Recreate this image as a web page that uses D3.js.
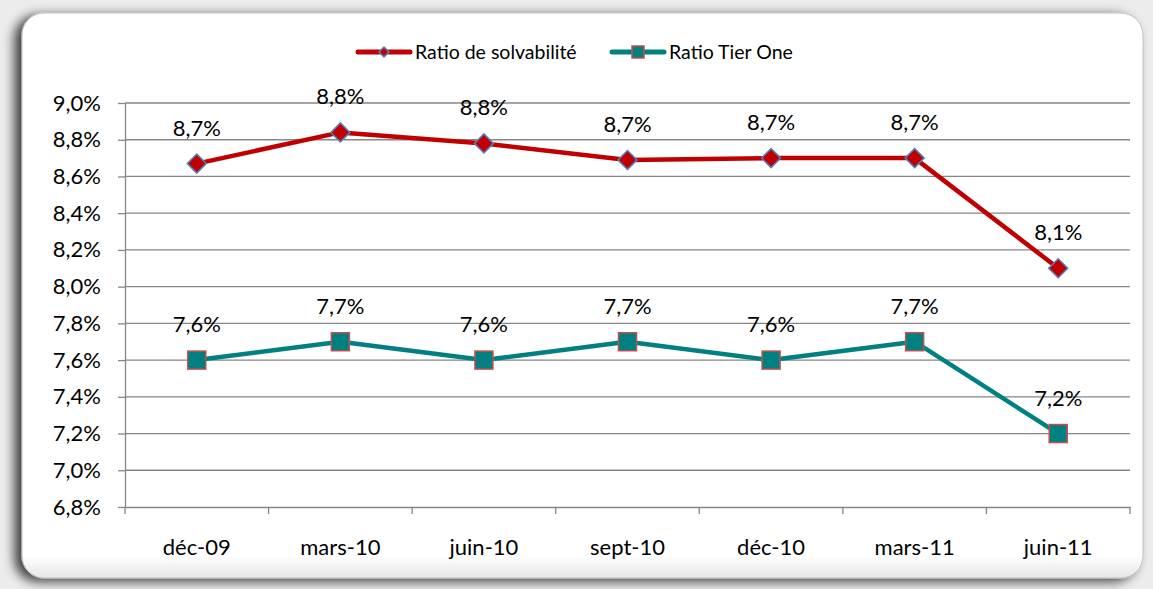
<!DOCTYPE html>
<html>
<head>
<meta charset="utf-8">
<script src="https://cdn.jsdelivr.net/npm/d3@7"></script>
<style>
body { margin: 0; background: #fff; }
text { font-family: "Lato", "Open Sans", sans-serif; fill: #000; }
</style>
</head>
<body>
<div id="chart"></div>
<script>
// Ratios de solvabilité / Tier One

var categories = ["déc-09", "mars-10", "juin-10", "sept-10", "déc-10", "mars-11", "juin-11"];
var solvabilite = [8.67, 8.84, 8.78, 8.69, 8.70, 8.70, 8.10];
var tierOne = [7.6, 7.7, 7.6, 7.7, 7.6, 7.7, 7.2];
var yTicks = [6.8, 7.0, 7.2, 7.4, 7.6, 7.8, 8.0, 8.2, 8.4, 8.6, 8.8, 9.0];

var param = {
    width: 1153,
    height: 589,
    left: 125,
    right: 1130,
    top: 103,
    bottom: 507
};

var pct = function(v, digits){
    return d3.format("." + digits + "f")(v).replace(".", ",") + "%";
};

var svg = d3.select("#chart").append("svg")
    .attr("width", param.width)
    .attr("height", param.height);

var defs = svg.append("defs");
var f = defs.append("filter").attr("id", "shadow")
    .attr("x", "-5%").attr("y", "-5%").attr("width", "110%").attr("height", "110%");
f.append("feGaussianBlur").attr("in", "SourceAlpha").attr("stdDeviation", 6);
f.append("feOffset").attr("dx", -7).attr("dy", 3).attr("result", "b");
f.append("feComponentTransfer").append("feFuncA").attr("type", "linear").attr("slope", 0.75);
var fm = f.append("feMerge");
fm.append("feMergeNode");
fm.append("feMergeNode").attr("in", "SourceGraphic");

var bevel = defs.append("linearGradient").attr("id", "bevel")
    .attr("x1", 0).attr("y1", 0).attr("x2", 0).attr("y2", 1);
bevel.append("stop").attr("offset", "0.96").attr("stop-color", "#fff");
bevel.append("stop").attr("offset", "1").attr("stop-color", "#e6e6e6");

// frame
svg.append("rect")
    .attr("x", 0).attr("y", 0).attr("width", param.width).attr("height", param.height)
    .attr("fill", "#ececec");
svg.append("rect")
    .attr("x", 22).attr("y", 13).attr("width", 1121).attr("height", 565)
    .attr("rx", 22).attr("ry", 22)
    .attr("fill", "url(#bevel)")
    .attr("stroke", "#c0c0c0").attr("stroke-width", 1)
    .attr("filter", "url(#shadow)");

var x = d3.scaleBand().domain(categories).range([param.left, param.right]);
var y = d3.scaleLinear().domain([6.8, 9.0]).range([param.bottom, param.top]);

// grid
svg.append("g").selectAll("line").data(yTicks.slice(1)).enter().append("line")
    .attr("x1", param.left).attr("x2", param.right)
    .attr("y1", function(d){ return y(d); }).attr("y2", function(d){ return y(d); })
    .attr("stroke", "#868686").attr("stroke-width", 1.3);

// y axis
var yAxis = svg.append("g")
    .attr("transform", "translate(" + param.left + ",0)")
    .call(d3.axisLeft(y).tickValues(yTicks).tickSize(7).tickSizeOuter(0)
	  .tickFormat(function(d){ return pct(d, 1); }));
yAxis.select(".domain").attr("stroke", "#868686").attr("stroke-width", 1.3);
yAxis.selectAll(".tick line").attr("stroke", "#868686").attr("stroke-width", 1.3);
yAxis.selectAll(".tick text").attr("font-size", 22).attr("dx", -14);

// x axis
var xAxis = svg.append("g")
    .attr("transform", "translate(0," + param.bottom + ")")
    .call(d3.axisBottom(x).tickSize(0).tickSizeOuter(0));
xAxis.select(".domain").attr("stroke", "#868686").attr("stroke-width", 1.3);
xAxis.selectAll(".tick text").attr("font-size", 22).attr("dy", 0).attr("y", 48);
svg.append("g").selectAll("line").data(categories.concat([null])).enter().append("line")
    .attr("x1", function(d, i){ return param.left + i * x.bandwidth(); })
    .attr("x2", function(d, i){ return param.left + i * x.bandwidth(); })
    .attr("y1", param.bottom).attr("y2", param.bottom + 7)
    .attr("stroke", "#868686").attr("stroke-width", 1.3);

var cx = function(d, i){ return x(categories[i]) + x.bandwidth() / 2; };
var line = d3.line().x(cx).y(function(d){ return y(d); });

// solvabilité
svg.append("path").datum(solvabilite)
    .attr("d", line).attr("fill", "none")
    .attr("stroke", "#c00000").attr("stroke-width", 4.5).attr("stroke-linejoin", "round");
svg.append("g").selectAll("path").data(solvabilite).enter().append("path")
    .attr("d", d3.symbol().type(d3.symbolSquare).size(180))
    .attr("transform", function(d, i){ return "translate(" + cx(d, i) + "," + y(d) + ") rotate(45)"; })
    .attr("fill", "#c00000").attr("stroke", "#4f81bd").attr("stroke-width", 1.5);
svg.append("g").selectAll("text").data(solvabilite).enter().append("text")
    .attr("x", cx).attr("y", function(d){ return y(d) - 28; })
    .attr("text-anchor", "middle").attr("font-size", 22)
    .text(function(d){ return pct(d, 1); });

// tier one
svg.append("path").datum(tierOne)
    .attr("d", line).attr("fill", "none")
    .attr("stroke", "#008080").attr("stroke-width", 4.5).attr("stroke-linejoin", "round");
svg.append("g").selectAll("rect").data(tierOne).enter().append("rect")
    .attr("x", function(d, i){ return cx(d, i) - 9; })
    .attr("y", function(d){ return y(d) - 9; })
    .attr("width", 18).attr("height", 18)
    .attr("fill", "#008080").attr("stroke", "#c0504d").attr("stroke-width", 1.5);
svg.append("g").selectAll("text").data(tierOne).enter().append("text")
    .attr("x", cx).attr("y", function(d){ return y(d) - 28; })
    .attr("text-anchor", "middle").attr("font-size", 22)
    .text(function(d){ return pct(d, 1); });

// legend
var legend = [
    {name: "Ratio de solvabilité", color: "#c00000", x: 358},
    {name: "Ratio Tier One", color: "#008080", x: 612}
];
var lg = svg.append("g").selectAll("g").data(legend).enter().append("g")
    .attr("transform", function(d){ return "translate(" + d.x + ",52)"; });
lg.append("line").attr("x1", 0).attr("x2", 52).attr("y1", 0).attr("y2", 0)
    .attr("stroke", function(d){ return d.color; }).attr("stroke-width", 5)
    .attr("stroke-linecap", "round");
lg.filter(function(d, i){ return i === 0; }).append("path")
    .attr("d", d3.symbol().type(d3.symbolSquare).size(50))
    .attr("transform", "translate(26,0) rotate(45)")
    .attr("fill", "#c00000").attr("stroke", "#4f81bd").attr("stroke-width", 1.5);
lg.filter(function(d, i){ return i === 1; }).append("rect")
    .attr("x", 20).attr("y", -6).attr("width", 12).attr("height", 12)
    .attr("fill", "#008080").attr("stroke", "#c0504d").attr("stroke-width", 1.5);
lg.append("text").attr("x", 57).attr("y", 7).attr("font-size", 19.5)
    .text(function(d){ return d.name; });
</script>
</body>
</html>
